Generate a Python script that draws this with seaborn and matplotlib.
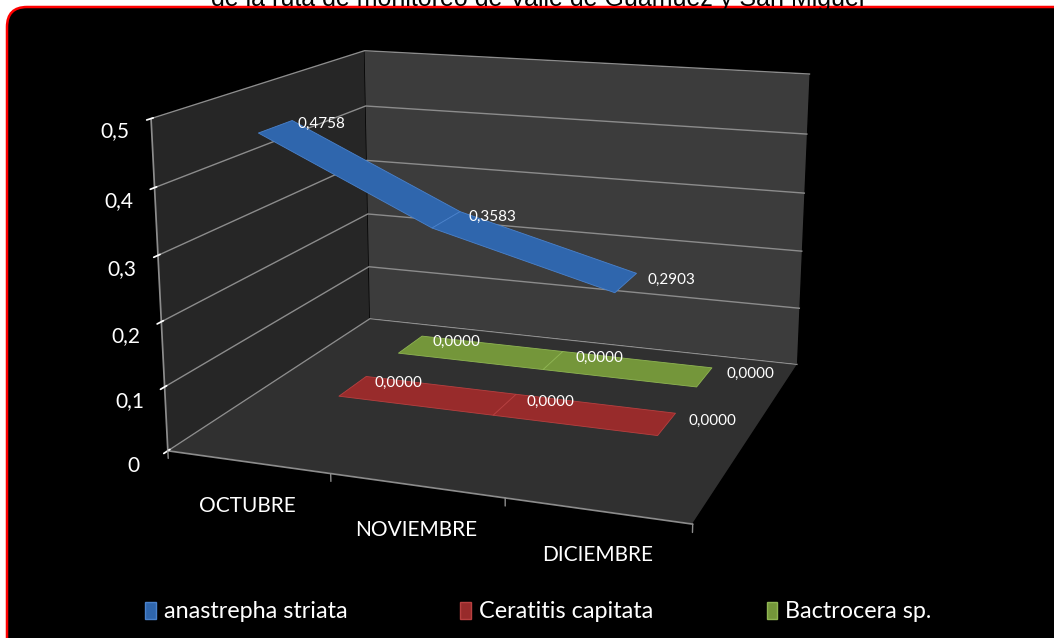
import numpy as np
import matplotlib
matplotlib.use("Agg")
import matplotlib.pyplot as plt
import seaborn as sns
from mpl_toolkits.mplot3d.art3d import Poly3DCollection
from matplotlib.patches import FancyBboxPatch, Patch
from matplotlib.transforms import ScaledTranslation

# ---- data ----
categories = ["OCTUBRE", "NOVIEMBRE", "DICIEMBRE"]
series_names = ["anastrepha striata", "Ceratitis capitata", "Bactrocera sp."]
anastrepha = [0.4758, 0.3583, 0.2903]
ceratitis = [0.0000, 0.0000, 0.0000]
bactrocera = [0.0000, 0.0000, 0.0000]
z_ticks = [0, 0.1, 0.2, 0.3, 0.4, 0.5]
z_ticklabels = ["0", "0,1", "0,2", "0,3", "0,4", "0,5"]
title = "de la ruta de monitoreo de Valle de Guamuez y San Miguel"

series_values = [anastrepha, ceratitis, bactrocera]
series_colors = ["#2f66ad", "#982b2b", "#74963a"]
series_edges = ["#4a82cc", "#b84040", "#8fb552"]

sns.set_theme(style="white")
plt.rcParams["font.family"] = ["Lato", "DejaVu Sans"]

W, H = 1054, 638
fig = plt.figure(figsize=(W / 100, H / 100), dpi=100)
fig.patch.set_facecolor("white")

# black rounded panel with red border
panel = FancyBboxPatch((0.07, -0.2), 10.7, 6.51,
                       boxstyle="round,pad=0,rounding_size=0.2",
                       transform=fig.dpi_scale_trans, facecolor="black",
                       edgecolor="#ff0000", linewidth=1.8, zorder=-10)
fig.patches.append(panel)

fig.text(0.51, 1 - 6 / H, title, ha="center", va="baseline",
         fontsize=18, color="black", family=["Liberation Sans", "DejaVu Sans"])

S = 730
ax = fig.add_axes([130 / W, 10 / H, S / W, S / H], projection="3d",
                  computed_zorder=False)
ax.set_zorder(1)
ax.set_facecolor((0, 0, 0, 0))
ax.patch.set_alpha(0)

ax.view_init(elev=14.5, azim=-70)
ax.set_proj_type("persp", focal_length=0.45)
ax.set_box_aspect((1.60, 1.46, 1.0), zoom=1.015)

n = len(categories)
xpos = np.arange(n)
ax.set_xlim(-0.5, n - 0.5)
ax.set_ylim(-0.5, len(series_names) - 0.5)
ax.set_zlim(0, 0.5)

def px(dx, dy):
    return ax.transData + ScaledTranslation(dx / 100, dy / 100, fig.dpi_scale_trans)

half = 0.22
for s, (vals, fc, ec) in enumerate(zip(series_values, series_colors, series_edges)):
    polys = []
    for i in range(n - 1):
        polys.append([(xpos[i], s - half, vals[i]), (xpos[i + 1], s - half, vals[i + 1]),
                      (xpos[i + 1], s + half, vals[i + 1]), (xpos[i], s + half, vals[i])])
    pc = Poly3DCollection(polys, facecolors=fc, edgecolors=ec, linewidths=0.6)
    pc.set_zorder(10 - s)
    ax.add_collection3d(pc)
    for i in range(n):
        ax.text(xpos[i], s, vals[i], f"{vals[i]:.4f}".replace(".", ","),
                color="white", fontsize=11, ha="left", va="center", zorder=20,
                transform=px(22, 3))

# panes
ax.xaxis.set_pane_color("#262626")
ax.yaxis.set_pane_color("#3c3c3c")
ax.zaxis.set_pane_color("#303030")
for a in (ax.xaxis, ax.yaxis, ax.zaxis):
    a.pane.set_edgecolor((0, 0, 0, 0))

ax.grid(True)
ax.xaxis._axinfo["grid"]["color"] = (0, 0, 0, 0)
ax.yaxis._axinfo["grid"]["color"] = (0, 0, 0, 0)
ax.zaxis._axinfo["grid"]["color"] = "#8c8c8c"
ax.zaxis._axinfo["grid"]["linewidth"] = 1.0

ax.set_xticks([])
ax.set_yticks([])
ax.set_zticks(z_ticks)
ax.set_zticklabels(z_ticklabels)
ax.zaxis.set_ticks_position("lower")
ax.zaxis.set_label_position("lower")
ax.tick_params(axis="z", colors="white", labelsize=15, pad=5)
ax.xaxis.line.set_color("#8c8c8c")
ax.zaxis.line.set_color("#8c8c8c")
ax.yaxis.line.set_color((0, 0, 0, 0))
for a in (ax.xaxis, ax.yaxis, ax.zaxis):
    a.label.set_visible(False)
    a.offsetText.set_visible(False)

# category labels along the front floor edge
for i, c in enumerate(categories):
    ax.text(xpos[i], -0.5, 0, c, color="white", fontsize=15, ha="center",
            va="center", transform=px(0, -44), zorder=20)

# category boundary tick marks
for b in np.arange(n + 1) - 0.5:
    ax.plot([b, b], [-0.5, -0.5], [0, -0.012], color="#8c8c8c", lw=1, zorder=5)

handles = [Patch(facecolor=c, edgecolor=e) for c, e in zip(series_colors, series_edges)]
leg = fig.legend(handles, series_names, loc="center left",
                 bbox_to_anchor=(124 / W, 1 - 612 / H), ncol=3, frameon=False,
                 fontsize=16.8, handlelength=0.45, handleheight=0.7, handletextpad=0.35,
                 columnspacing=4.85)
for t in leg.get_texts():
    t.set_color("white")

fig.savefig("out.png", dpi=100, facecolor="white")
